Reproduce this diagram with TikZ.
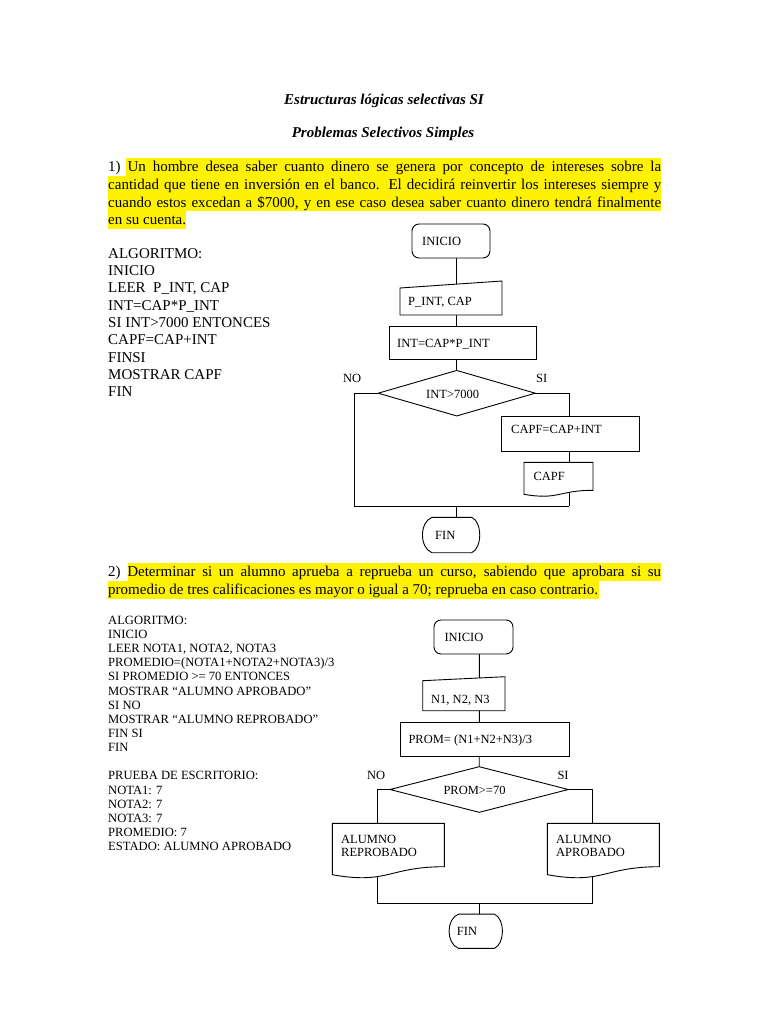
\documentclass[tikz,border=0pt]{standalone}
\usepackage{fontspec}
\setmainfont{Liberation Serif}
\usetikzlibrary{calc}
\begin{document}
\begin{tikzpicture}[x=1pt,y=-1pt]
\tikzset{
  frame/.style={draw=none, inner sep=0pt, outer sep=0pt, rectangle},
  shp/.style={draw=black, line width=0.9pt, fill=white},
  conn/.style={draw=black, line width=0.9pt},
  fc/.style={font=\fontsize{12.5}{14}\selectfont, inner sep=0pt, anchor=base west},
  partxt/.style={font=\fontsize{15}{17.7}\selectfont, inner sep=0pt, anchor=base west},
  alg/.style={font=\fontsize{15}{17.3}\selectfont, inner sep=0pt, anchor=base west},
  algs/.style={font=\fontsize{12.6}{14}\selectfont, inner sep=0pt, anchor=base west},
  ttl/.style={font=\fontsize{15}{17}\selectfont\bfseries\itshape, inner sep=0pt, anchor=base},
  hl/.style={fill=yellow},
}
\fill[white] (0,0) rectangle (768,1024);
\useasboundingbox (0,0) rectangle (768,1024);

% ---------- titles ----------
\node[ttl] (t1) at (384,104.5) {Estructuras lógicas selectivas SI};
\node[ttl] (t2) at (383,137.5) {Problemas Selectivos Simples};

% ---------- problem 1 text ----------
\fill[hl] (126,158.1) rectangle (661,175.9);
\fill[hl] (108,175.9) rectangle (661,193.7);
\fill[hl] (108,193.7) rectangle (661,211.5);
\fill[hl] (108,211.5) rectangle (186,229.3);
\node[partxt] (p1a) at (108,171.5) {\makebox[553pt][s]{1)\ Un hombre desea saber cuanto dinero se genera por concepto de intereses sobre la}};
\node[partxt] (p1b) at (108,189.3) {\makebox[553pt][s]{cantidad que tiene en inversión en el banco. El decidirá reinvertir los intereses siempre y}};
\node[partxt] (p1c) at (108,207.1) {\makebox[553pt][s]{cuando estos excedan a \$7000, y en ese caso desea saber cuanto dinero tendrá finalmente}};
\node[partxt] (p1d) at (108,224.9) {en su cuenta.};

% ---------- algorithm 1 ----------
\foreach \t [count=\i from 0] in {ALGORITMO:, INICIO, {LEER\ \ P\_INT, CAP}, {INT=CAP*P\_INT}, {SI INT>7000 ENTONCES}, {CAPF=CAP+INT}, FINSI, {MOSTRAR CAPF}, FIN}
  \node[alg] (a1-\i) at (108,258.3+17.3*\i) {\t};

% ---------- flowchart 1 frames ----------
\node[frame, minimum width=78, minimum height=34] (ini1) at (451,241) {};
\node[frame, minimum width=102, minimum height=34] (in1) at (451,298) {};
\node[frame, minimum width=147, minimum height=33] (proc1) at (462.5,342.5) {};
\node[frame, minimum width=157, minimum height=45.5] (dec1) at (456.7,393.2) {};
\node[frame, minimum width=138, minimum height=35] (proc2) at (570,433.5) {};
\node[frame, minimum width=69, minimum height=28] (out1) at (558.5,476.3) {};
\node[frame, minimum width=58.3, minimum height=35.4] (fin1) at (450.85,535) {};
\coordinate (ax1) at (456.7,0);
\coordinate (j1l) at (354.3,506);
\coordinate (j1r) at (569.3,506);
\coordinate (j1c) at (456.7,506);

% connectors 1
\draw[conn] (ini1.center -| ax1) -- (in1.center -| ax1) -- (proc1.center -| ax1) -- (dec1.center);
\draw[conn] (dec1.west) -| (j1l) -- (j1r);
\draw[conn] (dec1.east) -| (proc2.center -| j1r) -- (out1.center -| j1r) -- (j1r);
\draw[conn] (j1c) -- (fin1.center -| j1c);

% shapes 1
\draw[shp, rounded corners=7] (ini1.north west) rectangle (ini1.south east);
\draw[shp] (in1.south west) -- (in1.south east) -- (in1.north east) -- ($(in1.north west)+(0,7)$) -- cycle;
\draw[shp] (proc1.north west) rectangle (proc1.south east);
\draw[shp] (dec1.north) -- (dec1.east) -- (dec1.south) -- (dec1.west) -- cycle;
\draw[shp] (proc2.north west) rectangle (proc2.south east);
\draw[shp] (out1.south east) -- (out1.north east) -- (out1.north west) -- ($(out1.south west)+(0,4)$)
  .. controls ($(out1.south)+(0,10)$) and (out1.south) .. (out1.south east) -- cycle;
\draw[shp] ($(fin1.north west)+(10.3,0)$) -- ($(fin1.north east)+(-8.3,0)$)
  .. controls ($(fin1.north east)+(2.4,4.7)$) and ($(fin1.south east)+(2.4,-4.7)$) .. ($(fin1.south east)+(-8.3,0)$)
  -- ($(fin1.south west)+(10.3,0)$)
  .. controls ($(fin1.south west)+(-2.4,-4.7)$) and ($(fin1.north west)+(-2.4,4.7)$) .. ($(fin1.north west)+(10.3,0)$) -- cycle;

% labels 1
\node[fc] (l-ini1) at (422,245) {INICIO};
\node[fc] (l-in1) at (408,305) {P\_INT, CAP};
\node[fc] (l-proc1) at (397,347.3) {INT=CAP*P\_INT};
\node[fc] (l-dec1) at (426,398) {INT>7000};
\node[fc] (l-no1) at (343,382.5) {NO};
\node[fc] (l-si1) at (536,382.5) {SI};
\node[fc] (l-proc2) at (511,433.3) {CAPF=CAP+INT};
\node[fc] (l-out1) at (533.3,480) {CAPF};
\node[fc] (l-fin1) at (435,539.3) {FIN};

% ---------- problem 2 text ----------
\fill[hl] (127.5,563.1) rectangle (661,580.9);
\fill[hl] (108,580.9) rectangle (598.5,598.7);
\node[partxt] (p2a) at (108,576.5) {\makebox[553pt][s]{2)\ Determinar si un alumno aprueba a reprueba un curso, sabiendo que aprobara si su}};
\node[partxt] (p2b) at (108,594.3) {promedio de tres calificaciones es mayor o igual a 70; reprueba en caso contrario.};

% ---------- algorithm 2 ----------
\foreach \t [count=\i from 0] in {ALGORITMO:, INICIO, {LEER NOTA1, NOTA2, NOTA3}, {PROMEDIO=(NOTA1+NOTA2+NOTA3)/3}, {SI PROMEDIO >= 70 ENTONCES}, {MOSTRAR “ALUMNO APROBADO”}, {SI NO}, {MOSTRAR “ALUMNO REPROBADO”}, {FIN SI}, FIN}
  \node[algs] (a2-\i) at (108,624.3+14.15*\i) {\t};
\foreach \t [count=\i from 11] in {PRUEBA DE ESCRITORIO:, {NOTA1: 7}, {NOTA2: 7}, {NOTA3: 7}, {PROMEDIO: 7}, {ESTADO: ALUMNO APROBADO}}
  \node[algs] (a2-\i) at (108,624.3+14.15*\i) {\t};

% ---------- flowchart 2 frames ----------
\node[frame, minimum width=79, minimum height=34] (ini2) at (473.5,637) {};
\node[frame, minimum width=82.3, minimum height=34] (in2) at (463.85,693.7) {};
\node[frame, minimum width=169.3, minimum height=34.4] (proc3) at (484.65,739.5) {};
\node[frame, minimum width=178.3, minimum height=45.6] (dec2) at (479.2,789.5) {};
\node[frame, minimum width=112, minimum height=43.4] (out2) at (388.3,845) {};
\node[frame, minimum width=112, minimum height=43.4] (out3) at (603.3,845) {};
\node[frame, minimum width=54.4, minimum height=34.3] (fin2) at (475.5,931.2) {};
\coordinate (ax2) at (479.3,0);
\coordinate (j2l) at (377.7,903.3);
\coordinate (j2r) at (592.7,903.3);
\coordinate (j2c) at (479.3,903.3);

% connectors 2
\draw[conn] (ini2.center -| ax2) -- (in2.center -| ax2) -- (proc3.center -| ax2) -- (dec2.center);
\draw[conn] (dec2.west) -| (out2.center -| j2l) -- (j2l) -- (j2r) -- (out3.center -| j2r) |- (dec2.east);
\draw[conn] (j2c) -- (fin2.center -| j2c);

% shapes 2
\draw[shp, rounded corners=7] (ini2.north west) rectangle (ini2.south east);
\draw[shp] (in2.south west) -- (in2.south east) -- (in2.north east) -- ($(in2.north west)+(0,4)$) -- cycle;
\draw[shp] (proc3.north west) rectangle (proc3.south east);
\draw[shp] (dec2.north) -- (dec2.east) -- (dec2.south) -- (dec2.west) -- cycle;
\draw[shp] (out2.south east) -- (out2.north east) -- (out2.north west) -- ($(out2.south west)+(0,8)$)
  .. controls ($(out2.south)+(0,18)$) and (out2.south) .. (out2.south east) -- cycle;
\draw[shp] (out3.south east) -- (out3.north east) -- (out3.north west) -- ($(out3.south west)+(0,8)$)
  .. controls ($(out3.south)+(0,18)$) and (out3.south) .. (out3.south east) -- cycle;
\draw[shp] ($(fin2.north west)+(10.3,0)$) -- ($(fin2.north east)+(-8.3,0)$)
  .. controls ($(fin2.north east)+(2.4,4.7)$) and ($(fin2.south east)+(2.4,-4.7)$) .. ($(fin2.south east)+(-8.3,0)$)
  -- ($(fin2.south west)+(10.3,0)$)
  .. controls ($(fin2.south west)+(-2.4,-4.7)$) and ($(fin2.north west)+(-2.4,4.7)$) .. ($(fin2.north west)+(10.3,0)$) -- cycle;

% labels 2
\node[fc] (l-ini2) at (444.3,641.7) {INICIO};
\node[fc] (l-in2) at (431,703.3) {N1, N2, N3};
\node[fc] (l-proc3) at (408.3,743.3) {PROM= (N1+N2+N3)/3};
\node[fc] (l-dec2) at (443.3,794.3) {PROM>=70};
\node[fc] (l-no2) at (367,779.3) {NO};
\node[fc] (l-si2) at (557.3,779.3) {SI};
\node[fc] (l-out2a) at (341,843.3) {ALUMNO};
\node[fc] (l-out2b) at (341,856.7) {REPROBADO};
\node[fc] (l-out3a) at (556,843.3) {ALUMNO};
\node[fc] (l-out3b) at (556,856.7) {APROBADO};
\node[fc] (l-fin2) at (456.7,935.7) {FIN};
\end{tikzpicture}
\end{document}
